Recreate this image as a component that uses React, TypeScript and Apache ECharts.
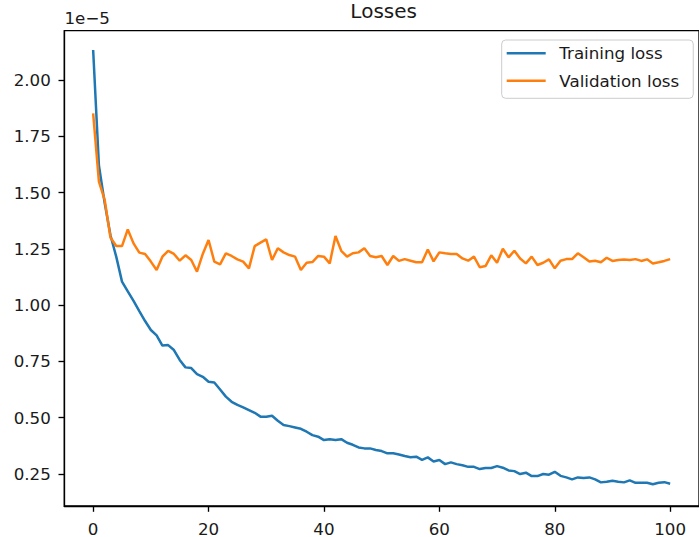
import React, { useEffect, useRef } from "react";
import * as echarts from "echarts";

// Values are in units of 1e-5
const trainingLoss: number[] = [
  2.133, 1.62, 1.453, 1.31, 1.215, 1.104, 1.061, 1.018, 0.973, 0.929,
  0.889, 0.865, 0.82, 0.822, 0.8, 0.756, 0.723, 0.72, 0.693, 0.681,
  0.659, 0.656, 0.625, 0.593, 0.57, 0.556, 0.545, 0.533, 0.521, 0.504,
  0.504, 0.508, 0.486, 0.467, 0.462, 0.456, 0.45, 0.437, 0.422, 0.415,
  0.4, 0.404, 0.4, 0.404, 0.388, 0.379, 0.367, 0.363, 0.363, 0.356,
  0.351, 0.341, 0.341, 0.336, 0.329, 0.324, 0.326, 0.312, 0.323, 0.305,
  0.311, 0.293, 0.301, 0.293, 0.288, 0.281, 0.281, 0.271, 0.276, 0.276,
  0.284, 0.277, 0.265, 0.262, 0.249, 0.255, 0.24, 0.24, 0.249, 0.246,
  0.259, 0.241, 0.234, 0.225, 0.234, 0.231, 0.234, 0.225, 0.212, 0.215,
  0.219, 0.215, 0.212, 0.221, 0.21, 0.21, 0.21, 0.204, 0.21, 0.213,
  0.206,
];

const validationLoss: number[] = [
  1.852, 1.548, 1.467, 1.3, 1.262, 1.262, 1.336, 1.274, 1.233, 1.227,
  1.193, 1.156, 1.215, 1.241, 1.227, 1.197, 1.221, 1.2, 1.148, 1.227,
  1.289, 1.193, 1.181, 1.23, 1.218, 1.203, 1.193, 1.163, 1.262, 1.277,
  1.292, 1.2, 1.252, 1.234, 1.222, 1.215, 1.156, 1.188, 1.191, 1.218,
  1.215, 1.185, 1.307, 1.241, 1.215, 1.23, 1.234, 1.252, 1.218, 1.212,
  1.218, 1.178, 1.218, 1.196, 1.204, 1.197, 1.19, 1.19, 1.247, 1.194,
  1.234, 1.23, 1.227, 1.227, 1.207, 1.197, 1.215, 1.168, 1.173, 1.221,
  1.188, 1.25, 1.212, 1.241, 1.207, 1.185, 1.215, 1.178, 1.188, 1.203,
  1.163, 1.197, 1.204, 1.204, 1.23, 1.212, 1.193, 1.197, 1.19, 1.21,
  1.196, 1.2, 1.202, 1.2, 1.204, 1.196, 1.203, 1.185, 1.19, 1.196,
  1.204,
];

const xTicks: number[] = [0, 20, 40, 60, 80, 100];
const yTicks: number[] = [0.25, 0.5, 0.75, 1.0, 1.25, 1.5, 1.75, 2.0];
const seriesNames: string[] = ["Training loss", "Validation loss"];
const titleText = "Losses";
const scaleText = "1e\u22125";

const FONT = "DejaVu Sans";
const TEXT = "#1a1a1a";

export default function App() {
  const ref = useRef<HTMLDivElement>(null);

  useEffect(() => {
    if (!ref.current) return;
    const chart = echarts.init(ref.current, undefined, { renderer: "svg" });
    const toPairs = (arr: number[]) => arr.map((v, i) => [i, v]);
    const gridLeft = 64.3;
    const gridTop = 30.7;
    const gridWidth = 638.7;
    const gridHeight = 475.3;
    chart.setOption({
      animation: false,
      backgroundColor: "#ffffff",
      title: {
        text: titleText,
        left: gridLeft + gridWidth / 2,
        textAlign: "center",
        top: 1,
        padding: 0,
        textStyle: { fontFamily: FONT, fontSize: 20, fontWeight: "normal", color: TEXT },
      },
      grid: {
        left: gridLeft,
        top: gridTop,
        width: gridWidth,
        height: gridHeight,
        show: true,
        borderColor: "#000",
        borderWidth: 1.33,
        backgroundColor: "transparent",
      },
      legend: {
        orient: "vertical",
        left: 501.7,
        top: 40,
        padding: [3.3, 14, 7.6, 5],
        itemWidth: 39,
        itemHeight: 2.5,
        itemGap: 7.4,
        icon: "rect",
        backgroundColor: "rgba(255,255,255,0.8)",
        borderColor: "#cccccc",
        borderWidth: 1,
        borderRadius: 4,
        textStyle: {
          fontFamily: FONT,
          fontSize: 16.7,
          lineHeight: 20,
          color: TEXT,
          padding: [0, 0, 0, 8.6],
        },
        data: seriesNames,
      },
      xAxis: {
        type: "value",
        min: -5,
        max: 105,
        splitLine: { show: false },
        axisLine: { show: true, onZero: false, lineStyle: { color: "#000", width: 1.33 } },
        axisTick: {
          show: true,
          length: 5.8,
          lineStyle: { color: "#000", width: 1.33 },
          customValues: xTicks,
        },
        axisLabel: {
          customValues: xTicks,
          margin: 14,
          fontFamily: FONT,
          fontSize: 16.7,
          color: TEXT,
        },
      },
      yAxis: {
        type: "value",
        min: 0.107,
        max: 2.219,
        splitLine: { show: false },
        axisLine: { show: true, onZero: false, lineStyle: { color: "#000", width: 1.33 } },
        axisTick: {
          show: true,
          length: 5.8,
          lineStyle: { color: "#000", width: 1.33 },
          customValues: yTicks,
        },
        axisLabel: {
          customValues: yTicks,
          margin: 13.5,
          fontFamily: FONT,
          fontSize: 16.7,
          color: TEXT,
          formatter: (v: number) => v.toFixed(2),
        },
      },
      graphic: [
        {
          type: "text",
          left: 64.5,
          top: 9,
          style: { text: scaleText, font: `16.7px '${FONT}'`, fill: TEXT },
        },
      ],
      series: [
        {
          name: seriesNames[0],
          type: "line",
          data: toPairs(trainingLoss),
          showSymbol: false,
          color: "#1f77b4",
          lineStyle: { width: 2.5, color: "#1f77b4" },
        },
        {
          name: seriesNames[1],
          type: "line",
          data: toPairs(validationLoss),
          showSymbol: false,
          color: "#ff7f0e",
          lineStyle: { width: 2.5, color: "#ff7f0e" },
        },
      ],
    });
    return () => chart.dispose();
  }, []);

  return (
    <div
      ref={ref}
      style={{ position: "fixed", left: 0, top: 0, width: 699, height: 537, background: "#fff" }}
    />
  );
}
